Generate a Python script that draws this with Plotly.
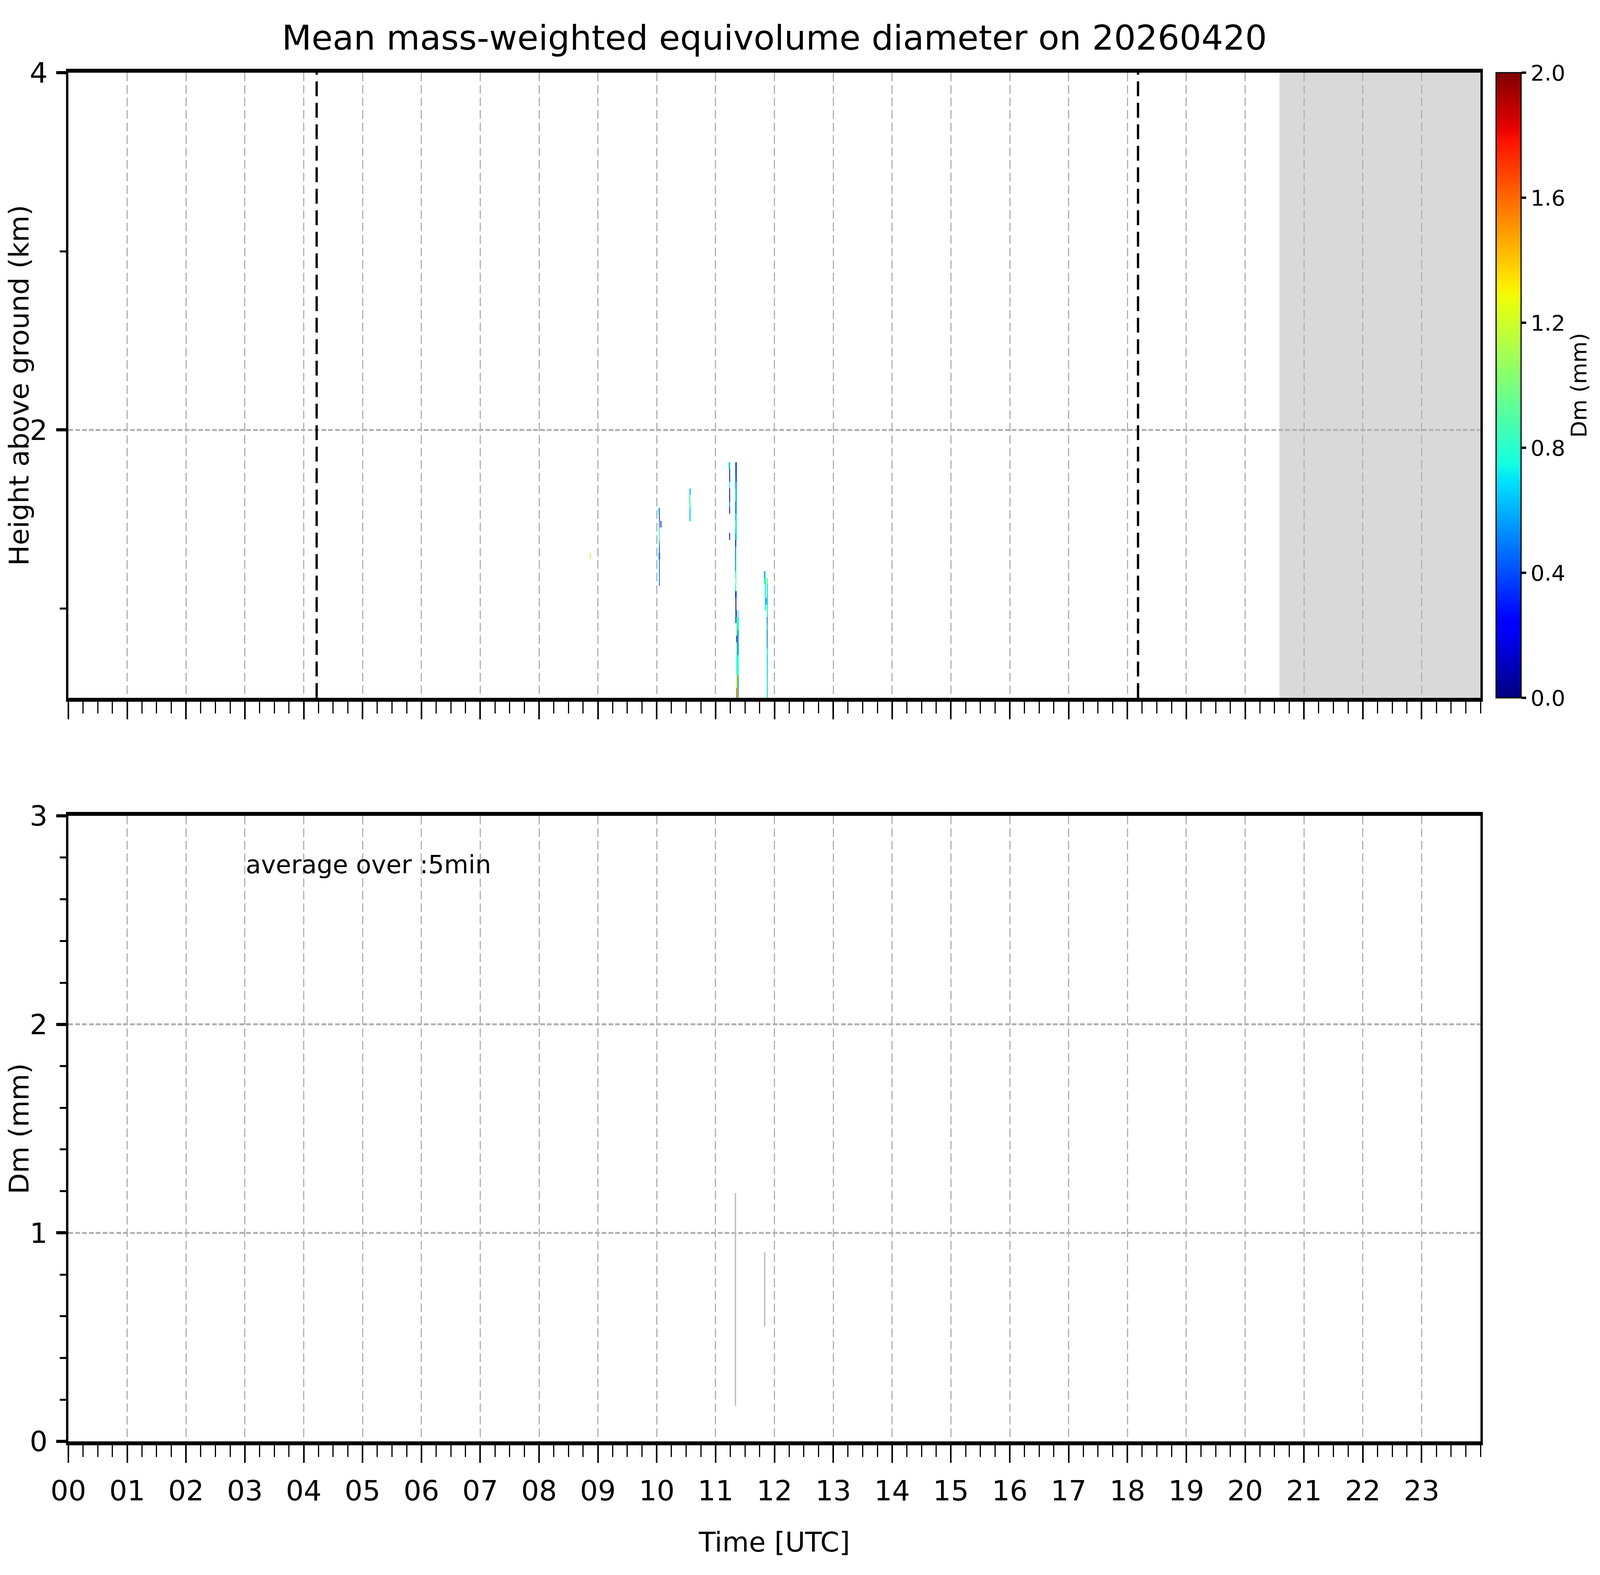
import plotly.graph_objects as go

# ---------------- data ----------------
DATE = "20260420"

# top panel: Dm curtain, 30-s columns (start time), bottom/top height (km), Dm (mm)
seg_start = (
    ["08:52:00"]
    + ["10:02:00", "10:02:30", "10:02:30", "10:02:30", "10:02:30", "10:02:30", "10:02:30",
       "10:02:00", "10:02:30", "10:03:00", "10:02:30", "10:04:00"]
    + ["10:33:00", "10:33:30", "10:33:30", "10:33:30", "10:33:30", "10:34:00", "10:34:00", "10:34:00"]
    + ["11:13:30", "11:14:00", "11:14:00", "11:14:00", "11:14:00", "11:14:00", "11:14:00", "11:14:00", "11:14:00"]
    + ["11:20:00"] * 15
    + ["11:20:30"] * 14
    + ["11:21:00"] * 5
    + ["11:21:30"] * 6
    + ["11:22:00"] * 5
    + ["11:22:30"] * 5
    + ["11:23:00"] * 5
    + ["11:49:30", "11:49:30", "11:50:00", "11:50:00", "11:50:30", "11:50:30",
       "11:51:00", "11:51:00", "11:51:00", "11:52:00"]
    + ["11:52:30"] * 10
    + ["11:53:00"] * 4
)
seg_bottom = (
    [1.274]
    + [1.527, 1.527, 1.492, 1.453, 1.380, 1.348, 1.312, 1.275, 1.275, 1.275, 1.128, 1.453]
    + [1.600, 1.637, 1.600, 1.564, 1.490, 1.637, 1.564, 1.490]
    + [1.782, 1.782, 1.710, 1.673, 1.636, 1.599, 1.567, 1.530, 1.384]
    + [1.742, 1.709, 1.673, 1.599, 1.493, 1.456, 1.383, 1.277, 1.208, 1.171, 1.097, 1.060, 0.990, 0.954, 0.918]
    + [1.742, 1.709, 1.673, 1.599, 1.530, 1.456, 1.419, 1.346, 1.171, 1.097, 1.060, 0.990, 0.954, 0.918]
    + [1.709, 1.530, 1.383, 1.060, 0.918]
    + [0.848, 0.812, 0.738, 0.627, 0.554, 0.500]
    + [0.881, 0.738, 0.627, 0.554, 0.500]
    + [0.881, 0.812, 0.738, 0.664, 0.500]
    + [0.954, 0.881, 0.738, 0.627, 0.500]
    + [1.171, 1.134, 1.171, 1.134, 1.171, 0.990, 1.060, 1.023, 0.990, 1.023]
    + [1.134, 1.060, 1.023, 0.954, 0.918, 0.881, 0.812, 0.775, 0.738, 0.500]
    + [1.134, 0.812, 0.627, 0.500]
)
seg_top = (
    [1.311]
    + [1.564, 1.564, 1.527, 1.492, 1.453, 1.380, 1.348, 1.312, 1.312, 1.312, 1.275, 1.492]
    + [1.637, 1.672, 1.637, 1.600, 1.564, 1.672, 1.600, 1.564]
    + [1.819, 1.819, 1.782, 1.710, 1.673, 1.636, 1.599, 1.567, 1.423]
    + [1.819, 1.742, 1.709, 1.673, 1.599, 1.493, 1.456, 1.383, 1.277, 1.208, 1.134, 1.097, 1.060, 0.990, 0.954]
    + [1.819, 1.742, 1.709, 1.673, 1.599, 1.530, 1.456, 1.419, 1.346, 1.171, 1.097, 1.060, 0.990, 0.954]
    + [1.819, 1.709, 1.530, 1.097, 0.990]
    + [0.954, 0.848, 0.812, 0.738, 0.627, 0.554]
    + [0.954, 0.881, 0.738, 0.627, 0.554]
    + [0.954, 0.881, 0.812, 0.738, 0.664]
    + [0.990, 0.954, 0.881, 0.738, 0.627]
    + [1.208, 1.171, 1.208, 1.171, 1.208, 1.171, 1.171, 1.060, 1.023, 1.060]
    + [1.171, 1.134, 1.060, 1.023, 0.954, 0.918, 0.881, 0.812, 0.775, 0.738]
    + [1.171, 1.134, 0.812, 0.627]
)
seg_dm = (
    [1.15]
    + [0.50, 0.55, 0.40, 0.45, 0.80, 0.55, 0.40, 0.50, 0.48, 0.52, 0.45, 0.10]
    + [0.90, 0.75, 0.85, 0.75, 0.60, 0.55, 0.90, 0.70]
    + [0.75, 0.55, 0.10, 0.70, 0.10, 0.12, 0.50, 0.10, 0.10]
    + [0.85, 0.75, 0.70, 0.85, 0.50, 0.90, 0.65, 0.15, 0.30, 0.90, 0.75, 0.10, 1.20, 0.95, 0.35]
    + [0.10, 0.40, 0.55, 0.80, 0.55, 0.90, 0.85, 0.45, 0.80, 0.90, 0.40, 0.10, 0.40, 0.90]
    + [0.35, 0.55, 0.70, 0.45, 0.20]
    + [0.95, 0.10, 0.90, 0.75, 1.15, 1.70]
    + [0.75, 0.90, 0.85, 1.55, 1.35]
    + [0.90, 0.50, 0.40, 0.75, 1.00]
    + [0.75, 0.70, 0.55, 0.75, 0.55]
    + [0.10, 0.90, 0.75, 0.90, 0.75, 0.72, 0.75, 0.55, 0.75, 0.55]
    + [0.75, 0.60, 0.50, 0.75, 0.10, 0.45, 0.15, 0.35, 0.85, 0.60]
    + [1.10, 0.85, 0.78, 0.90]
)

# bottom panel: 5-min Dm spread (mm)
dm_time = ["11:20:15", "11:50:05"]
dm_low = [0.17, 0.553]
dm_high = [1.19, 0.907]

# sunrise / sunset markers and no-data period (UTC)
sun_times = ["04:13:12", "18:10:48"]
nodata_start = "20:35:00"
day_end = 24

hour_labels = ["%02d" % h for h in range(24)]
cbar_ticks = [0.0, 0.4, 0.8, 1.2, 1.6, 2.0]

# ---------------- helpers ----------------
def hrs(s):
    h, m, sec = (int(v) for v in s.split(":"))
    return h + m / 60 + sec / 3600

BIN_H = 30 / 3600.0

# matplotlib "jet"
JET = [
    [0.0, "rgb(0,0,128)"], [0.11, "rgb(0,0,255)"], [0.125, "rgb(0,0,255)"],
    [0.34, "rgb(0,219,255)"], [0.35, "rgb(0,229,247)"], [0.375, "rgb(20,255,226)"],
    [0.64, "rgb(238,255,8)"], [0.65, "rgb(247,245,0)"], [0.66, "rgb(255,236,0)"],
    [0.89, "rgb(255,19,0)"], [0.91, "rgb(232,0,0)"], [1.0, "rgb(128,0,0)"],
]

FONT = "DejaVu Sans"
F_TICK, F_LABEL, F_TITLE, F_SMALL, F_CBAR = 72, 70, 88, 64, 56

fig = go.Figure()

fig.add_trace(go.Bar(
    x=[hrs(s) + BIN_H / 2 for s in seg_start],
    base=seg_bottom,
    y=[t - b for t, b in zip(seg_top, seg_bottom)],
    width=[BIN_H] * len(seg_start),
    marker=dict(
        color=seg_dm, colorscale=JET, cmin=0, cmax=2, line=dict(width=0),
        colorbar=dict(
            x=1.0111, xanchor="left", y=1, yanchor="top",
            len=1600, lenmode="pixels", thickness=64, thicknessmode="pixels",
            xpad=0, ypad=0, outlinewidth=3, outlinecolor="black",
            ticks="outside", ticklen=12, tickwidth=6, tickcolor="black",
            tickvals=cbar_ticks, ticktext=["%.1f" % v for v in cbar_ticks],
            tickfont=dict(family=FONT, size=F_CBAR, color="black"),
            title=dict(text="Dm (mm)", side="right", font=dict(family=FONT, size=F_CBAR, color="black")),
        ),
    ),
    xaxis="x", yaxis="y", showlegend=False, hoverinfo="skip",
))

lx, ly = [], []
for t, lo, hi in zip(dm_time, dm_low, dm_high):
    lx += [hrs(t), hrs(t), None]
    ly += [lo, hi, None]
fig.add_trace(go.Scatter(x=lx, y=ly, mode="lines", line=dict(color="#c0c0c0", width=3.7),
                         xaxis="x2", yaxis="y2", showlegend=False, hoverinfo="skip"))

shapes = [dict(type="rect", xref="x", yref="y domain", x0=hrs(nodata_start), x1=day_end, y0=0, y1=1,
               fillcolor="#d9d9d9", line=dict(width=0), layer="below")]
for s in sun_times:
    shapes.append(dict(type="line", xref="x", yref="y domain", x0=hrs(s), x1=hrs(s), y0=0, y1=1,
                       line=dict(color="black", width=5.9, dash="38px,17px"), layer="above"))

xcommon = dict(
    range=[0, day_end], tickvals=list(range(24)), ticktext=hour_labels,
    ticks="outside", ticklen=45, tickwidth=4.4, tickcolor="black",
    showline=True, linewidth=10, linecolor="black", mirror=True, zeroline=False,
    minor=dict(dtick=0.25, tick0=0, ticks="outside", ticklen=30, tickwidth=2.9,
               tickcolor="black", showgrid=False),
    tickfont=dict(family=FONT, size=F_TICK, color="black"), ticklabelstandoff=10,
    automargin=False,
    showgrid=True, gridcolor="#b0b0b0", gridwidth=2.9, griddash="22px,10px",
)
ycommon = dict(
    ticks="outside", ticklen=25, tickwidth=8, tickcolor="black",
    showline=True, linewidth=5.5, linecolor="black", mirror=True, zeroline=False,
    tickfont=dict(family=FONT, size=F_TICK, color="black"), ticklabelstandoff=8,
    automargin=False,
    showgrid=True, gridcolor="#b0b0b0", gridwidth=5.3, griddash="12px,5.5px",
)

fig.update_layout(
    template="none",
    width=4080, height=4015,
    margin=dict(l=167, r=280, t=178, b=334, pad=0),
    paper_bgcolor="white", plot_bgcolor="white",
    font=dict(family=FONT, color="black"),
    barmode="overlay", bargap=0,
    title=dict(text="Mean mass-weighted equivolume diameter on " + DATE,
               x=0.5, xref="paper", xanchor="center", y=0.9781, yref="container", yanchor="middle",
               font=dict(family=FONT, size=F_TITLE, color="black")),
    xaxis=dict(domain=[0, 1], anchor="y", showticklabels=False, **xcommon),
    xaxis2=dict(domain=[0, 1], anchor="y2", matches="x",
                title=dict(text="Time [UTC]", standoff=70, font=dict(family=FONT, size=F_LABEL, color="black")),
                **xcommon),
    yaxis=dict(domain=[0.5432, 1], anchor="x", range=[0.5, 4], tickvals=[2, 4], ticktext=["2", "4"],
               minor=dict(tickvals=[1, 3], ticks="outside", ticklen=16.5, tickwidth=5.3,
                          tickcolor="black", showgrid=False),
               title=dict(text="Height above ground (km)", standoff=14,
                          font=dict(family=FONT, size=F_LABEL, color="black")),
               **ycommon),
    yaxis2=dict(domain=[0, 0.457], anchor="x2", range=[0, 3], tickvals=[0, 1, 2, 3], ticktext=["0", "1", "2", "3"],
                minor=dict(dtick=0.2, tick0=0, ticks="outside", ticklen=16.5, tickwidth=5.3,
                           tickcolor="black", showgrid=False),
                title=dict(text="Dm (mm)", standoff=14, font=dict(family=FONT, size=F_LABEL, color="black")),
                **ycommon),
    shapes=shapes,
    annotations=[dict(text="average over :5min", xref="x2 domain", yref="y2", x=0.125, y=2.766,
                      xanchor="left", yanchor="middle", showarrow=False,
                      font=dict(family=FONT, size=F_SMALL, color="black"))],
)

fig.write_html("out.html")
